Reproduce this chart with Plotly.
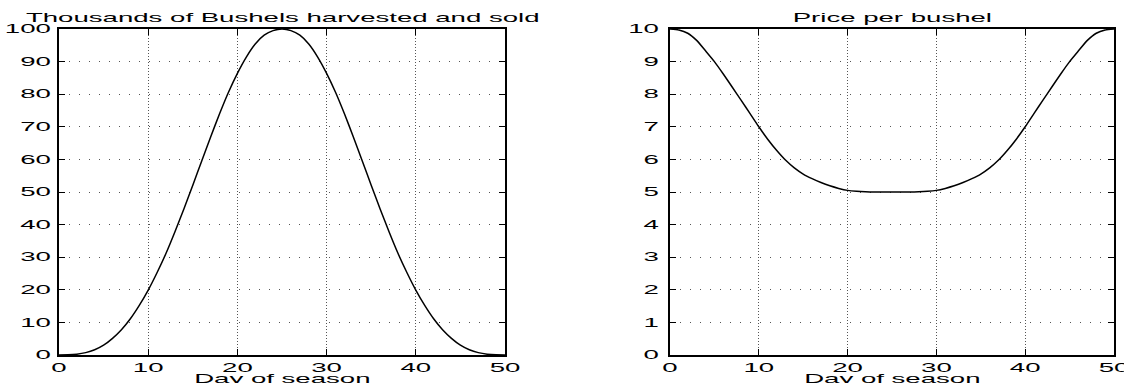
import plotly.graph_objects as go

# ---- data ----
days = list(range(0, 51))

bushels = [0, 0.05, 0.25, 0.73, 1.6, 3.0, 5.1, 7.75, 11.1, 15.2,
           19.9, 25.3, 31.2, 37.8, 44.8, 52.1, 59.5, 66.9, 74.0, 80.6,
           86.4, 91.4, 95.4, 98.1, 99.5, 100,
           99.5, 98.1, 95.4, 91.4, 86.4, 80.6, 74.0, 66.9, 59.5, 52.1,
           44.8, 37.8, 31.2, 25.3, 19.9, 15.2, 11.1, 7.75, 5.1, 3.0,
           1.6, 0.73, 0.25, 0.05, 0]

price = [10.0, 9.97, 9.87, 9.65, 9.33, 9.0, 8.62, 8.22, 7.82, 7.41,
         7.0, 6.62, 6.28, 5.98, 5.74, 5.55, 5.41, 5.29, 5.19, 5.11,
         5.05, 5.02, 5.005, 5.0, 5.0, 5.0,
         5.0, 5.0, 5.005, 5.02, 5.05, 5.11, 5.19, 5.29, 5.41, 5.55,
         5.74, 5.98, 6.28, 6.62, 7.0, 7.41, 7.82, 8.22, 8.62, 9.0,
         9.33, 9.65, 9.87, 9.97, 10.0]

x_ticks = [0, 10, 20, 30, 40, 50]
y1_ticks = [0, 10, 20, 30, 40, 50, 60, 70, 80, 90, 100]
y2_ticks = [0, 1, 2, 3, 4, 5, 6, 7, 8, 9, 10]

title1 = "Thousands of Bushels harvested and sold"
title2 = "Price per bushel"
xlabel = "Day of season"

# ---- layout geometry ----
W, H = 1124, 383
dom1 = [59 / W, 505 / W]
dom2 = [670 / W, 1114 / W]
ydom = [1 - 355 / H, 1 - 29 / H]

FONT = "Liberation Sans, Arial, Helvetica, sans-serif"

fig = go.Figure()
fig.add_trace(go.Scatter(x=days, y=bushels, mode="lines",
                         line=dict(color="black", width=1.5, shape="spline", smoothing=0.6),
                         xaxis="x", yaxis="y", showlegend=False, hoverinfo="skip"))
fig.add_trace(go.Scatter(x=days, y=price, mode="lines",
                         line=dict(color="black", width=1.5, shape="spline", smoothing=0.6),
                         xaxis="x2", yaxis="y2", showlegend=False, hoverinfo="skip"))

common = dict(showline=True, linecolor="black", linewidth=1.5, mirror="ticks",
              ticks="inside", ticklen=6, tickwidth=1, tickcolor="black",
              showgrid=True, gridcolor="#555", gridwidth=1, zeroline=False,
              automargin=False, fixedrange=True,
              tickfont=dict(family=FONT, size=12, color="black"))

xcommon = dict(common, range=[0, 50], tickmode="array", tickvals=x_ticks,
               ticktext=[str(v) for v in x_ticks], griddash="1px,2px",
               ticklabelstandoff=1)

fig.update_layout(
    width=W, height=H,
    margin=dict(l=0, r=0, t=0, b=0),
    paper_bgcolor="white", plot_bgcolor="white",
    template="none",
    showlegend=False,
    xaxis=dict(xcommon, domain=dom1, anchor="y"),
    yaxis=dict(common, domain=ydom, anchor="x", range=[0, 100], tickmode="array",
               tickvals=y1_ticks, ticktext=[str(v) for v in y1_ticks],
               griddash="1px,9px", ticklabelstandoff=4),
    xaxis2=dict(xcommon, domain=dom2, anchor="y2"),
    yaxis2=dict(common, domain=ydom, anchor="x2", range=[0, 10], tickmode="array",
                tickvals=y2_ticks, ticktext=[str(v) for v in y2_ticks],
                griddash="1px,9px", ticklabelstandoff=7),
    annotations=[
        dict(text=title1, x=(dom1[0] + dom1[1]) / 2, y=1 - 8.7 / H, xref="paper", yref="paper",
             xanchor="center", yanchor="top", showarrow=False,
             font=dict(family=FONT, size=12, color="black")),
        dict(text=title2, x=(dom2[0] + dom2[1]) / 2, y=1 - 8.7 / H, xref="paper", yref="paper",
             xanchor="center", yanchor="top", showarrow=False,
             font=dict(family=FONT, size=12, color="black")),
        dict(text=xlabel, x=(dom1[0] + dom1[1]) / 2, y=1 - 370 / H, xref="paper", yref="paper",
             xanchor="center", yanchor="top", showarrow=False,
             font=dict(family=FONT, size=12, color="black")),
        dict(text=xlabel, x=(dom2[0] + dom2[1]) / 2, y=1 - 370 / H, xref="paper", yref="paper",
             xanchor="center", yanchor="top", showarrow=False,
             font=dict(family=FONT, size=12, color="black")),
    ],
)

# Remove the default page margin, then widen each text element about its own
# anchor point (the reference text is drawn horizontally stretched); it stays real text.
stretch_js = """
document.body.style.margin = '0';
document.documentElement.style.overflow = 'hidden';
var gd = document.getElementById('{plot_id}');
var S = 2.3;
gd.querySelectorAll('svg.main-svg text').forEach(function(t){
  var x = parseFloat(t.getAttribute('x')) || 0;
  var y = parseFloat(t.getAttribute('y')) || 0;
  var tr = t.getAttribute('transform') || '';
  t.setAttribute('transform', tr + ' translate(' + x + ',' + y + ') scale(' + S + ',1) translate(' + (-x) + ',' + (-y) + ')');
});
"""

fig.write_html("out.html", post_script=stretch_js, config={"displayModeBar": False})
